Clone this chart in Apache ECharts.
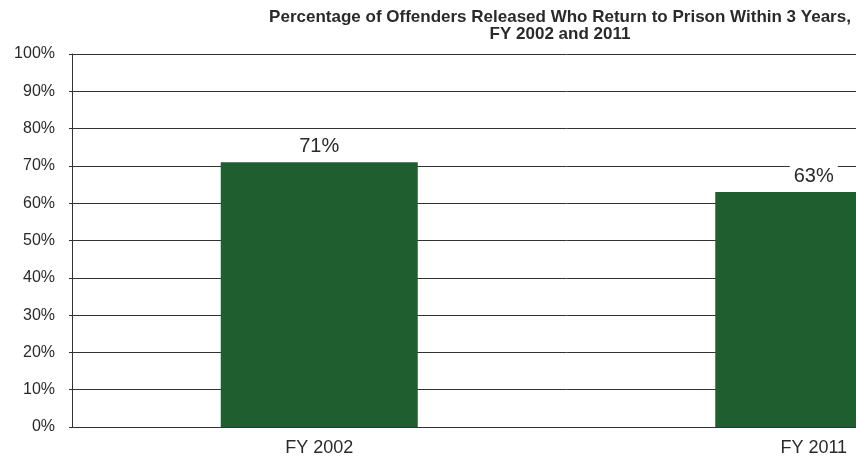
<!DOCTYPE html>
<html><head><meta charset="utf-8">
<script src="https://cdn.jsdelivr.net/npm/echarts@6/dist/echarts.min.js"></script>
<style>html,body{margin:0;padding:0;background:#fff;overflow:hidden;width:856px;height:461px}#c{width:1062px;height:461px}</style>
</head><body><div id="c"></div>
<script>
const categories = ['FY 2002', 'FY 2011'];
const values = [71, 63];
const titleText = 'Percentage of Offenders Released Who Return to Prison Within 3 Years,\nFY 2002 and 2011';

const chart = echarts.init(document.getElementById('c'), null, {renderer: 'canvas'});
chart.setOption({
  backgroundColor: '#ffffff',
  animation: false,
  title: {
    text: titleText,
    left: 555, top: 4, textAlign: 'center',
    textStyle: {fontFamily: 'Liberation Sans, Arial', fontWeight: 'bold', fontSize: 17, color: '#2a2a2a', lineHeight: 17}
  },
  grid: {left: 72, top: 54, bottom: 34, right: 1, containLabel: false},
  xAxis: {
    type: 'category', data: categories,
    axisLine: {lineStyle: {color: '#333', width: 1}},
    axisTick: {show: false},
    axisLabel: {fontFamily: 'Liberation Sans, Arial', fontSize: 18, color: '#2a2a2a', margin: 12}
  },
  yAxis: {
    type: 'value', min: 0, max: 100, interval: 10,
    axisLine: {show: true, lineStyle: {color: '#333', width: 1}},
    axisTick: {show: true, length: 3, lineStyle: {color: '#333'}},
    axisLabel: {formatter: '{value}%', fontFamily: 'Liberation Sans, Arial', fontSize: 16, color: '#2a2a2a', margin: 17},
    splitLine: {lineStyle: {color: '#333', width: 1}}
  },
  series: [{
    type: 'bar', data: values, barWidth: 197,
    itemStyle: {color: '#1f5e2e'},
    label: {show: true, position: 'top', distance: 5, formatter: '{c}%',
      fontFamily: 'Liberation Sans, Arial', fontSize: 20, color: '#2a2a2a',
      backgroundColor: '#fff', padding: [1, 4]}
  }]
});
</script></body></html>
